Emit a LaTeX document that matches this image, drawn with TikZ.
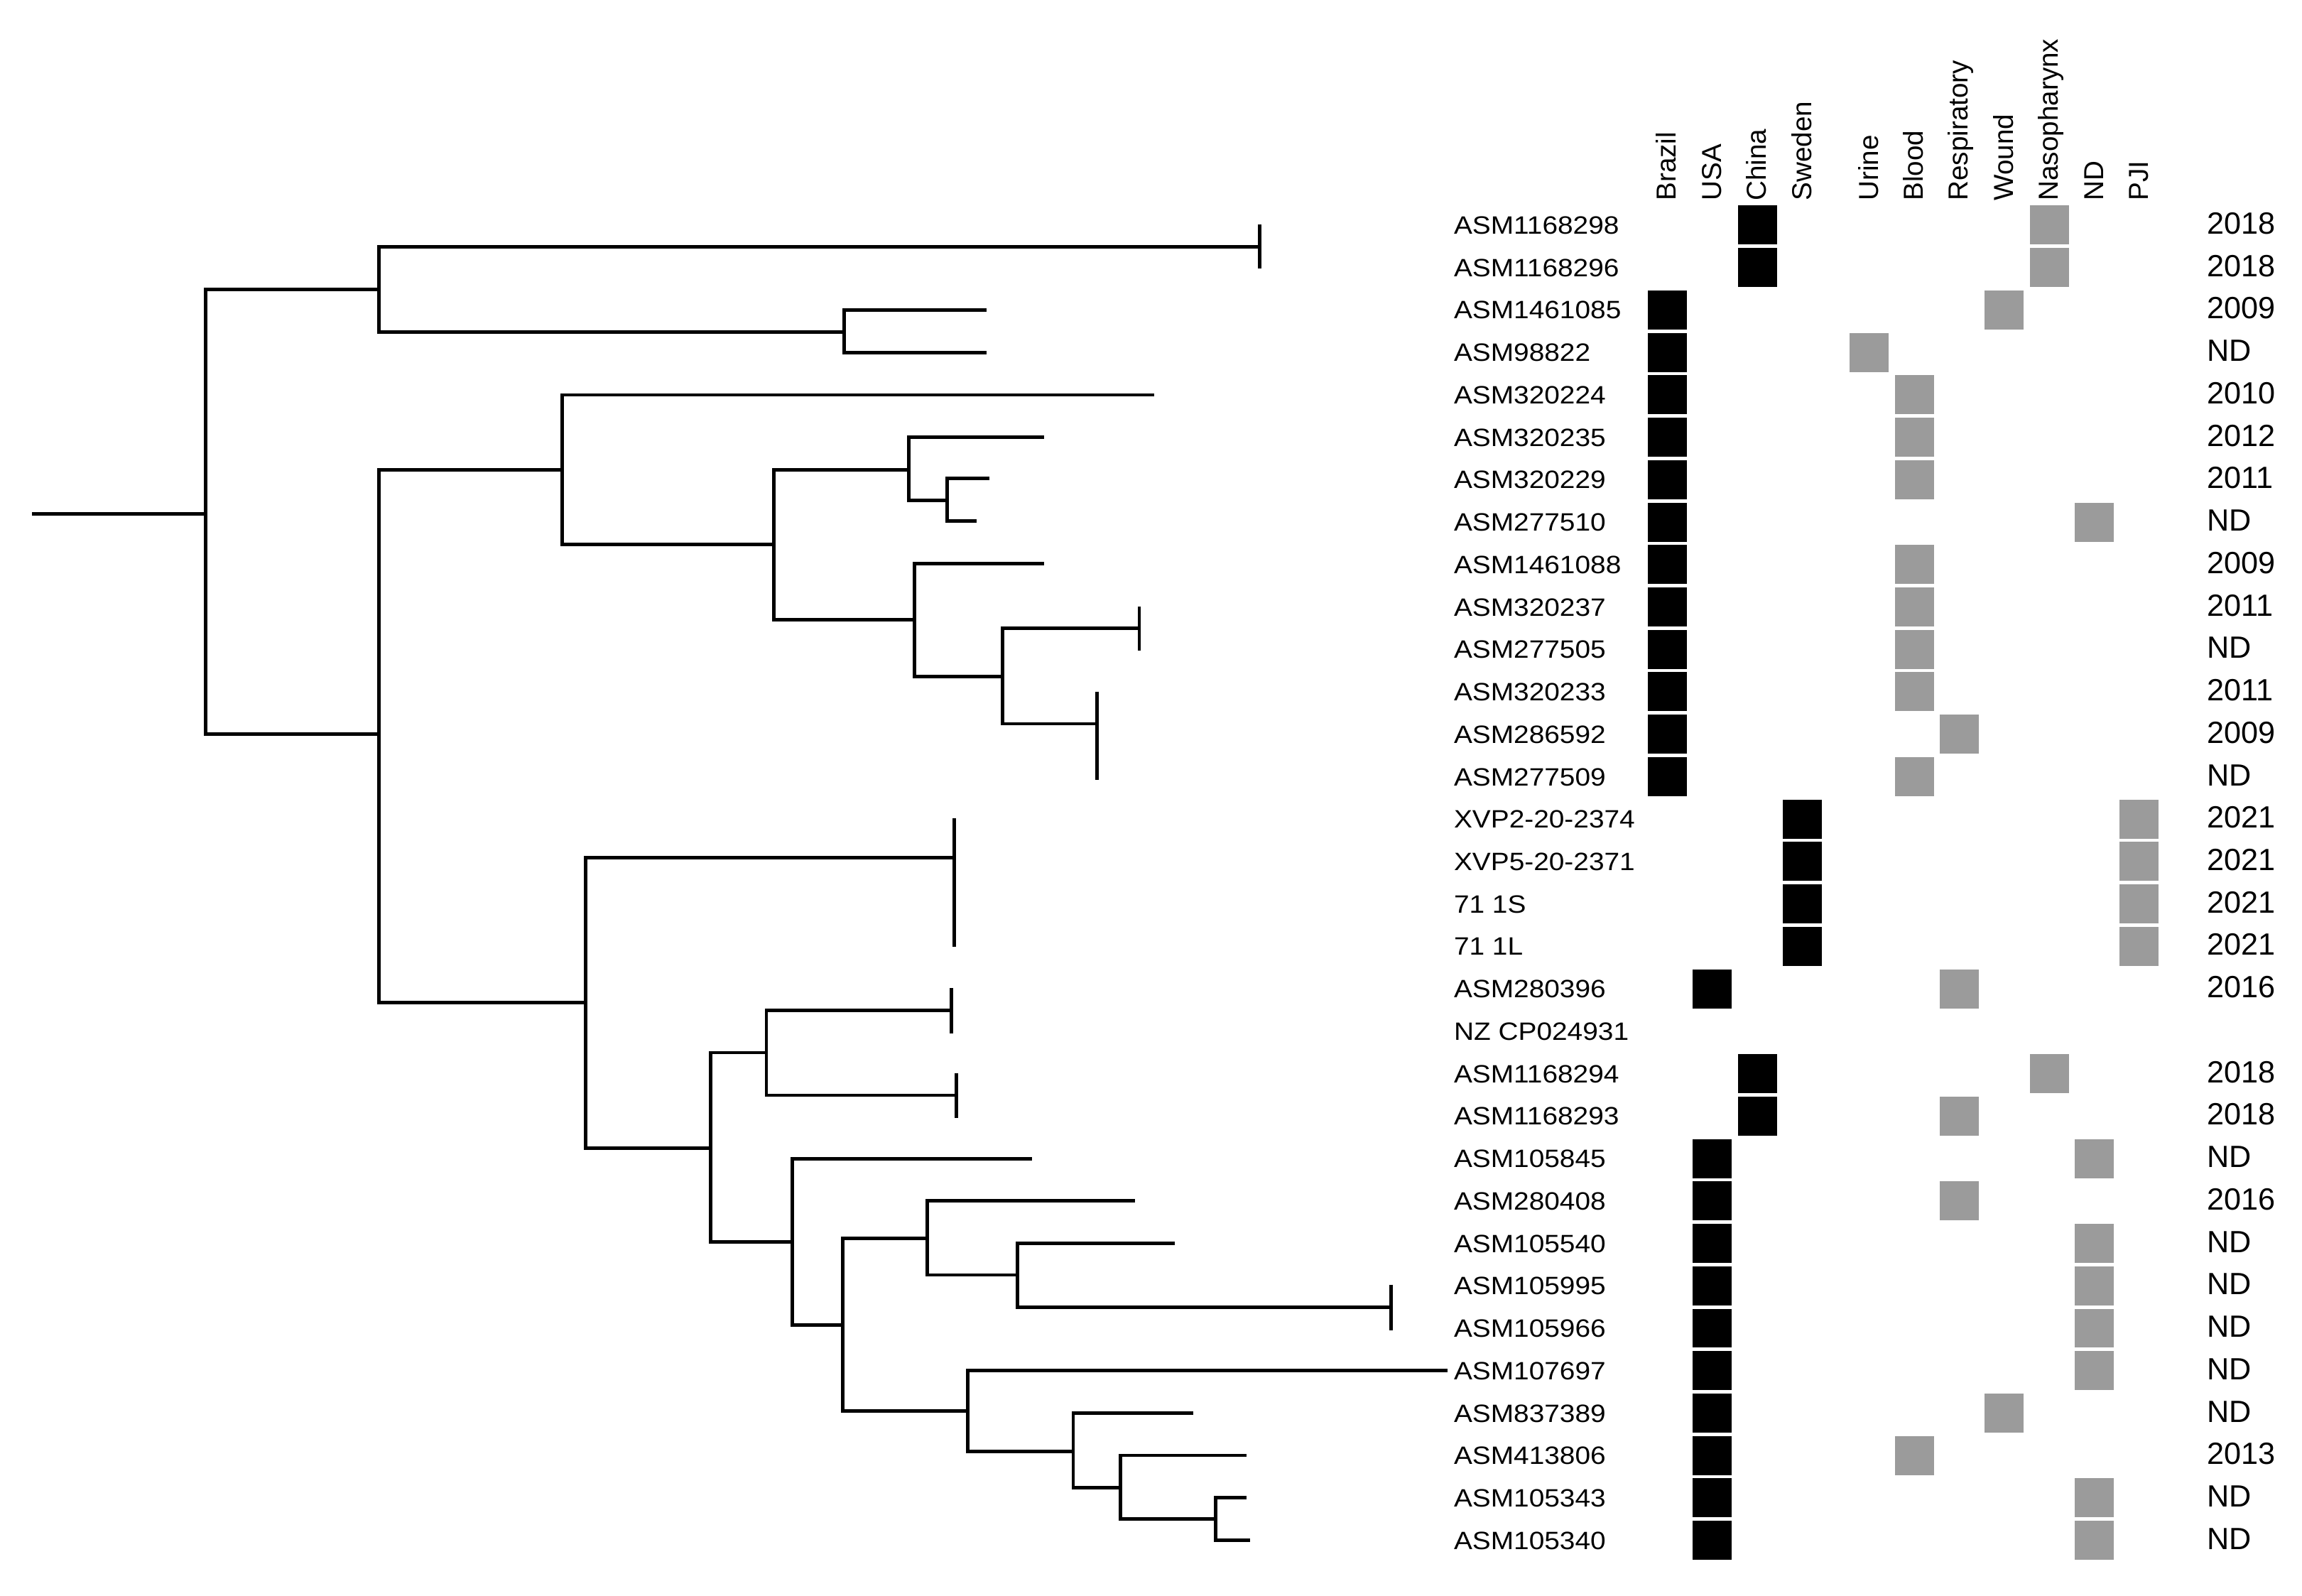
\documentclass[tikz,border=0pt]{standalone}
\usepackage{fontspec}
\setmainfont{Liberation Sans}
\newfontfamily\labfont[FakeStretch=1.10]{Liberation Sans}
\definecolor{srcgray}{RGB}{155,155,155}
\begin{document}
\begin{tikzpicture}[x=0.02067cm,y=-0.02067cm,
  br/.style={line width=1.4pt, line join=miter},
  tick/.style={line width=1.4pt},
  lab/.style={anchor=west, inner sep=0pt, font=\labfont\fontsize{10.05}{12}\selectfont, text height=0.716em, text depth=0pt},
  yr/.style={anchor=west, inner sep=0pt, font=\fontsize{12.3}{14}\selectfont, text height=0.716em, text depth=0pt},
  hdr/.style={anchor=west, rotate=90, inner sep=0pt, font=\fontsize{11}{13}\selectfont, text height=0.716em, text depth=0pt},
  csq/.style={fill=black, minimum size=0.55cm, inner sep=0pt, draw=none},
  ssq/.style={fill=srcgray, minimum size=0.55cm, inner sep=0pt, draw=none}]
\useasboundingbox (0,0) rectangle (1568,1087);

% ---------- tree coordinates ----------
\coordinate (r0) at (22,350);
\coordinate (nA) at (140,350);
\coordinate (nB) at (258,197);
\coordinate (nC) at (258,500);
\coordinate (t1) at (858,168);
\coordinate (nU) at (575,226);
\coordinate (t3) at (672,211);
\coordinate (t4) at (672,240);
\coordinate (nD) at (383,320);
\coordinate (nJ) at (399,683);
\coordinate (t5) at (786,269);
\coordinate (nE) at (527,371);
\coordinate (nF) at (619,320);
\coordinate (nH) at (623,422);
\coordinate (t6) at (711,298);
\coordinate (nG) at (645,341);
\coordinate (t7) at (674,326);
\coordinate (t8) at (665,355);
\coordinate (t9) at (711,384);
\coordinate (nI) at (683,461);
\coordinate (t10) at (776,428);
\coordinate (t12) at (747,493);
\coordinate (t15) at (650,584);
\coordinate (nK) at (484,782);
\coordinate (nL) at (522,717);
\coordinate (nM) at (539.5,846);
\coordinate (t19) at (648,688);
\coordinate (t21) at (651.5,746);
\coordinate (t23) at (703,789.5);
\coordinate (nN) at (574,902.4);
\coordinate (nO) at (631.5,843.6);
\coordinate (nQ) at (659,961);
\coordinate (t24) at (773,818);
\coordinate (nP) at (693,868.4);
\coordinate (t25) at (800,846.7);
\coordinate (t26) at (947.5,890.5);
\coordinate (t28) at (986,933.5);
\coordinate (nR) at (731,988.7);
\coordinate (t29) at (813,962.5);
\coordinate (nS) at (763,1013.5);
\coordinate (t30) at (849,991.3);
\coordinate (nT) at (828,1034.7);
\coordinate (t31) at (849,1020.3);
\coordinate (t32) at (851.5,1049);

% ---------- branches ----------
\draw[br] (r0) -- (nA);
\draw[br] (nA) |- (nB);
\draw[br] (nA) |- (nC);
\draw[br] (nB) |- (t1);
\draw[br] (nB) |- (nU);
\draw[br] (nU) |- (t3);
\draw[br] (nU) |- (t4);
\draw[br] (nC) |- (nD);
\draw[br] (nC) |- (nJ);
\draw[br] (nD) |- (t5);
\draw[br] (nD) |- (nE);
\draw[br] (nE) |- (nF);
\draw[br] (nE) |- (nH);
\draw[br] (nF) |- (t6);
\draw[br] (nF) |- (nG);
\draw[br] (nG) |- (t7);
\draw[br] (nG) |- (t8);
\draw[br] (nH) |- (t9);
\draw[br] (nH) |- (nI);
\draw[br] (nI) |- (t10);
\draw[br] (nI) |- (t12);
\draw[br] (nJ) |- (t15);
\draw[br] (nJ) |- (nK);
\draw[br] (nK) |- (nL);
\draw[br] (nK) |- (nM);
\draw[br] (nL) |- (t19);
\draw[br] (nL) |- (t21);
\draw[br] (nM) |- (t23);
\draw[br] (nM) |- (nN);
\draw[br] (nN) |- (nO);
\draw[br] (nN) |- (nQ);
\draw[br] (nO) |- (t24);
\draw[br] (nO) |- (nP);
\draw[br] (nP) |- (t25);
\draw[br] (nP) |- (t26);
\draw[br] (nQ) |- (t28);
\draw[br] (nQ) |- (nR);
\draw[br] (nR) |- (t29);
\draw[br] (nR) |- (nS);
\draw[br] (nS) |- (t30);
\draw[br] (nS) |- (nT);
\draw[br] (nT) |- (t31);
\draw[br] (nT) |- (t32);

% ---------- collapsed-clade ticks ----------
\draw[tick] (858,153) -- (858,183);
\draw[tick] (776,413) -- (776,443);
\draw[tick] (747,471) -- (747,531);
\draw[tick] (650,557.5) -- (650,645);
\draw[tick] (648,673) -- (648,704);
\draw[tick] (651.5,731) -- (651.5,761.5);
\draw[tick] (947.5,875) -- (947.5,906);

% ---------- headers ----------
\foreach \k/\h in {1/Brazil,2/USA,3/China,4/Sweden}{
  \pgfmathsetmacro{\hx}{1135.5+(\k-1)*30.75}
  \node[hdr] (hc\k) at (\hx,137) {\h};
}
\foreach \k/\h in {1/Urine,2/Blood,3/Respiratory,4/Wound,5/Nasopharynx,6/ND,7/PJI}{
  \pgfmathsetmacro{\hx}{1273.2+(\k-1)*30.65}
  \node[hdr] (hs\k) at (\hx,137) {\h};
}

% ---------- rows ----------
\foreach \i/\lab/\c/\s/\yr in {
1/ASM1168298/3/5/2018,
2/ASM1168296/3/5/2018,
3/ASM1461085/1/4/2009,
4/ASM98822/1/1/ND,
5/ASM320224/1/2/2010,
6/ASM320235/1/2/2012,
7/ASM320229/1/2/2011,
8/ASM277510/1/6/ND,
9/ASM1461088/1/2/2009,
10/ASM320237/1/2/2011,
11/ASM277505/1/2/ND,
12/ASM320233/1/2/2011,
13/ASM286592/1/3/2009,
14/ASM277509/1/2/ND,
15/XVP2-20-2374/4/7/2021,
16/XVP5-20-2371/4/7/2021,
17/71 1S/4/7/2021,
18/71 1L/4/7/2021,
19/ASM280396/2/3/2016,
20/NZ CP024931/0/0/,
21/ASM1168294/3/5/2018,
22/ASM1168293/3/3/2018,
23/ASM105845/2/6/ND,
24/ASM280408/2/3/2016,
25/ASM105540/2/6/ND,
26/ASM105995/2/6/ND,
27/ASM105966/2/6/ND,
28/ASM107697/2/6/ND,
29/ASM837389/2/4/ND,
30/ASM413806/2/2/2013,
31/ASM105343/2/6/ND,
32/ASM105340/2/6/ND}{
  \pgfmathsetmacro{\ry}{153.3+(\i-1)*28.9}
  \node[lab] (l\i) at (990,\ry) {\lab};
  \ifnum\c>0
    \pgfmathsetmacro{\cx}{1135.5+(\c-1)*30.75}
    \node[csq] (c\i) at (\cx,\ry) {};
    \pgfmathsetmacro{\sx}{1273.2+(\s-1)*30.65}
    \node[ssq] (s\i) at (\sx,\ry) {};
    \node[yr] (y\i) at (1503,\ry) {\yr};
  \fi
}
\end{tikzpicture}
\end{document}
